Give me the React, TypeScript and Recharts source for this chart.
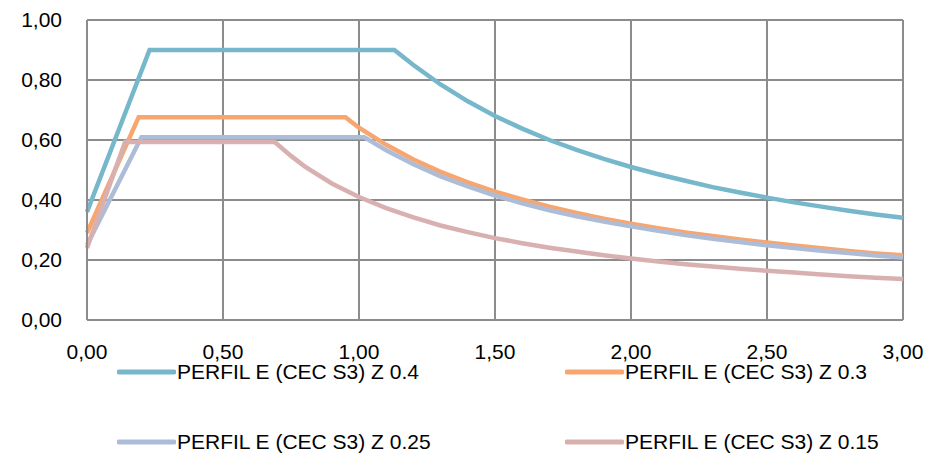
import React from "react";
import { LineChart, Line, XAxis, YAxis, CartesianGrid, Legend } from "recharts";

const xTicks = [0, 0.5, 1, 1.5, 2, 2.5, 3];
const yTicks = [0, 0.2, 0.4, 0.6, 0.8, 1.0];

const seriesNames = [
  "PERFIL E (CEC S3) Z 0.4",
  "PERFIL E (CEC S3) Z 0.3",
  "PERFIL E (CEC S3) Z 0.25",
  "PERFIL E (CEC S3) Z 0.15",
];
const seriesColors = ["#77b7cb", "#f7a66f", "#adbdd8", "#d9b0b0"];

const z04 = [
  { x: 0, y: 0.36 }, { x: 0.23, y: 0.9 }, { x: 1.13, y: 0.9 }, { x: 1.2, y: 0.85 },
  { x: 1.3, y: 0.785 }, { x: 1.4, y: 0.729 }, { x: 1.5, y: 0.68 }, { x: 1.6, y: 0.638 },
  { x: 1.7, y: 0.6 }, { x: 1.8, y: 0.567 }, { x: 1.9, y: 0.537 }, { x: 2.0, y: 0.51 },
  { x: 2.1, y: 0.486 }, { x: 2.2, y: 0.464 }, { x: 2.3, y: 0.443 }, { x: 2.4, y: 0.425 },
  { x: 2.5, y: 0.408 }, { x: 2.6, y: 0.392 }, { x: 2.7, y: 0.378 }, { x: 2.8, y: 0.364 },
  { x: 2.9, y: 0.352 }, { x: 3.0, y: 0.341 },
];

const z03 = [
  { x: 0, y: 0.29 }, { x: 0.19, y: 0.676 }, { x: 0.95, y: 0.676 }, { x: 1.0, y: 0.641 },
  { x: 1.1, y: 0.584 }, { x: 1.2, y: 0.535 }, { x: 1.3, y: 0.494 }, { x: 1.4, y: 0.459 },
  { x: 1.5, y: 0.428 }, { x: 1.6, y: 0.402 }, { x: 1.7, y: 0.378 }, { x: 1.8, y: 0.357 },
  { x: 1.9, y: 0.338 }, { x: 2.0, y: 0.321 }, { x: 2.1, y: 0.306 }, { x: 2.2, y: 0.292 },
  { x: 2.3, y: 0.28 }, { x: 2.4, y: 0.268 }, { x: 2.5, y: 0.258 }, { x: 2.6, y: 0.248 },
  { x: 2.7, y: 0.239 }, { x: 2.8, y: 0.23 }, { x: 2.9, y: 0.222 }, { x: 3.0, y: 0.216 },
];

const z025 = [
  { x: 0, y: 0.25 }, { x: 0.2, y: 0.609 }, { x: 1.02, y: 0.609 }, { x: 1.1, y: 0.566 },
  { x: 1.2, y: 0.519 }, { x: 1.3, y: 0.479 }, { x: 1.4, y: 0.445 }, { x: 1.5, y: 0.415 },
  { x: 1.6, y: 0.389 }, { x: 1.7, y: 0.366 }, { x: 1.8, y: 0.346 }, { x: 1.9, y: 0.328 },
  { x: 2.0, y: 0.312 }, { x: 2.1, y: 0.297 }, { x: 2.2, y: 0.283 }, { x: 2.3, y: 0.271 },
  { x: 2.4, y: 0.26 }, { x: 2.5, y: 0.249 }, { x: 2.6, y: 0.24 }, { x: 2.7, y: 0.231 },
  { x: 2.8, y: 0.223 }, { x: 2.9, y: 0.215 }, { x: 3.0, y: 0.208 },
];

const z015 = [
  { x: 0, y: 0.24 }, { x: 0.14, y: 0.593 }, { x: 0.69, y: 0.593 }, { x: 0.75, y: 0.547 },
  { x: 0.8, y: 0.512 }, { x: 0.9, y: 0.455 }, { x: 1.0, y: 0.41 }, { x: 1.1, y: 0.373 },
  { x: 1.2, y: 0.342 }, { x: 1.3, y: 0.315 }, { x: 1.4, y: 0.293 }, { x: 1.5, y: 0.273 },
  { x: 1.6, y: 0.256 }, { x: 1.7, y: 0.241 }, { x: 1.8, y: 0.228 }, { x: 1.9, y: 0.216 },
  { x: 2.0, y: 0.205 }, { x: 2.1, y: 0.195 }, { x: 2.2, y: 0.186 }, { x: 2.3, y: 0.178 },
  { x: 2.4, y: 0.171 }, { x: 2.5, y: 0.164 }, { x: 2.6, y: 0.158 }, { x: 2.7, y: 0.152 },
  { x: 2.8, y: 0.146 }, { x: 2.9, y: 0.141 }, { x: 3.0, y: 0.137 },
];

const seriesData = [z04, z03, z025, z015];

const FONT = "'Liberation Sans', Arial, sans-serif";
const fmt = (v: number) => v.toFixed(2).replace(".", ",");

const legendPos = [
  { left: 117, top: 372 },
  { left: 565, top: 372 },
  { left: 117, top: 442 },
  { left: 565, top: 442 },
];

const LegendContent = () => (
  <div style={{ position: "relative", width: 931, height: 110 }}>
    {seriesNames.map((n, i) => (
      <div
        key={n}
        style={{
          position: "absolute",
          left: legendPos[i].left,
          top: legendPos[i].top - 350 - 14,
          height: 28,
          display: "flex",
          alignItems: "center",
          fontFamily: FONT,
          fontSize: 21,
          color: "#000",
          whiteSpace: "nowrap",
        }}
      >
        <svg width={59} height={8} style={{ display: "block" }}>
          <line x1={2} y1={4} x2={57} y2={4} stroke={seriesColors[i]} strokeWidth={5} strokeLinecap="round" />
        </svg>
        <span style={{ marginLeft: 1 }}>{n}</span>
      </div>
    ))}
  </div>
);

export default function App() {
  return (
    <div style={{ position: "absolute", left: 0, top: 0, width: 931, height: 459, background: "#fff" }}>
      <LineChart width={931} height={459} margin={{ top: 20, right: 28, bottom: 99, left: 0 }}>
        <CartesianGrid stroke="#8c8c8c" strokeWidth={2} horizontalValues={yTicks} verticalValues={xTicks} />
        <XAxis
          type="number"
          dataKey="x"
          domain={[0, 3]}
          ticks={xTicks}
          tickFormatter={fmt}
          allowDuplicatedCategory={false}
          stroke="#8c8c8c"
          strokeWidth={2}
          tickLine={false}
          tickSize={0}
          tickMargin={24}
          height={40}
          tick={{ fill: "#000", fontSize: 21, fontFamily: FONT }}
        />
        <YAxis
          type="number"
          domain={[0, 1]}
          ticks={yTicks}
          tickFormatter={fmt}
          stroke="#8c8c8c"
          strokeWidth={2}
          tickLine={false}
          tickSize={0}
          tickMargin={25}
          width={87}
          tick={{ fill: "#000", fontSize: 21, fontFamily: FONT }}
        />
        <Legend
          layout="vertical"
          align="center"
          verticalAlign="middle"
          wrapperStyle={{ left: 0, top: 350, width: 931, height: 109 }}
          content={() => <LegendContent />}
        />
        {seriesData.map((d, i) => (
          <Line
            key={seriesNames[i]}
            data={d}
            dataKey="y"
            name={seriesNames[i]}
            type="linear"
            stroke={seriesColors[i]}
            strokeWidth={4.5}
            dot={false}
            activeDot={false}
            isAnimationActive={false}
          />
        ))}
      </LineChart>
    </div>
  );
}
